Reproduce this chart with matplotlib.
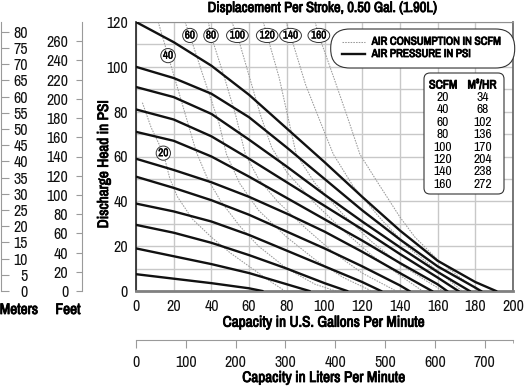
import matplotlib.pyplot as plt
import matplotlib.patheffects as pe
from matplotlib.patches import FancyBboxPatch
from matplotlib.lines import Line2D
from matplotlib.transforms import Affine2D

plt.rcParams['font.family'] = ['Archivo Narrow', 'Liberation Sans', 'DejaVu Sans']

W, H = 524, 387

# solid curves: air pressure in psi (gpm -> head psi)
pressure_gpm = [
    [0, 20, 40, 60, 80, 100, 120, 140, 160, 180, 191],
    [0, 20, 40, 60, 80, 100, 120, 140, 160, 180, 183],
    [0, 20, 40, 60, 80, 100, 120, 140, 160, 177],
    [0, 20, 40, 60, 80, 100, 120, 140, 160, 171],
    [0, 20, 40, 60, 80, 100, 120, 140, 160, 165],
    [0, 20, 40, 60, 80, 100, 120, 140, 157],
    [0, 20, 40, 60, 80, 100, 120, 140, 145],
    [0, 20, 40, 60, 80, 100, 120, 130],
    [0, 20, 40, 60, 80, 100, 112],
    [0, 20, 40, 60, 80, 92],
    [0, 20, 40, 60, 67],
]
pressure_psi = [
    [120, 111, 100.5, 87.5, 72.5, 57.5, 42, 27, 13.5, 4, 0],
    [100, 95, 88, 77.5, 64, 50, 36, 23, 11, 1.5, 0],
    [91, 86.5, 79, 67.5, 55.5, 43, 31, 19.5, 8.5, 0],
    [81, 76.5, 69, 59, 48.5, 38, 27.5, 16.5, 6, 0],
    [71, 67, 60, 51, 41.5, 32, 22.5, 12.5, 3, 0],
    [59, 54, 48.5, 42, 34.5, 26.5, 17.5, 8, 0],
    [51, 46, 40.5, 34, 26.5, 19, 11, 2.5, 0],
    [39, 35.5, 31, 25, 18, 11, 4, 0],
    [29.5, 26, 21.5, 16, 10, 3.5, 0],
    [19, 15.5, 12, 8, 3, 0],
    [7.5, 5.5, 3.5, 1.2, 0],
]

# dotted curves: air consumption in scfm
air_scfm = [20, 40, 60, 80, 100, 120, 140, 160]
air_gpm = [
    [3.4, 8, 14.5, 18, 22, 30, 40, 50, 60, 70, 79],
    [11.8, 17, 24, 32, 38, 45, 55, 65, 80, 95, 106],
    [26, 28.6, 36, 44, 48, 55, 65, 80, 95, 110, 125],
    [38.4, 39.8, 47, 53, 58, 65, 75, 90, 105, 120, 138],
    [50.8, 53.8, 60, 66, 72, 80, 95, 110, 125, 140, 152],
    [67.5, 69.6, 76, 80.5, 85, 95, 110, 125, 140, 155, 163],
    [79.6, 82, 90, 98, 104.7, 115, 130, 145, 160, 173],
    [95, 97, 105, 112, 118.8, 127, 140, 148, 160, 172, 182],
]
air_psi = [
    [84, 73, 61.5, 50, 42, 32, 24, 17, 11, 5, 0],
    [120, 105, 85, 62, 50, 40, 29, 20, 10, 3, 0],
    [120, 114, 95, 75, 61, 48, 36, 24, 14, 6, 0],
    [120, 114, 95, 78, 61, 50, 40, 28, 17, 8, 0],
    [120, 114, 96, 78.6, 64, 53, 39, 27, 16, 7, 0],
    [120, 114, 95, 78, 61, 48, 34, 22, 12, 4, 0],
    [120, 114, 92, 75, 61, 47, 32, 19, 9, 0],
    [120, 114, 95, 78, 61, 50, 33, 24, 14, 6, 0],
]
label_idx = [2, 1, 1, 1, 1, 1, 1, 1]

scfm_table = [20, 40, 60, 80, 100, 120, 140, 160]
m3hr_table = [34, 68, 102, 136, 170, 204, 238, 272]

fig = plt.figure(figsize=(W / 100, H / 100), dpi=100)
px = Affine2D().scale(1, -1).translate(0, H)  # image pixels (y down) -> display
bold = [pe.withStroke(linewidth=0.6, foreground='black')]  # narrow font has no bold face


def rect(x0, y0, x1, y1):
    return [x0 / W, 1 - y1 / H, (x1 - x0) / W, (y1 - y0) / H]


def ftext(x, y, s, heavy=False, **kw):
    if heavy:
        kw['path_effects'] = bold
    fig.text(x / W, 1 - y / H, s, color='black', **kw)


L, R, T, B = 136, 513, 22, 291
grid_c = '#c8c8c8'
dot_c = '#9a9a9a'
dots = (0, (1.5, 1.1))

# main chart
ax = fig.add_axes(rect(L, T, R, B))
ax.set_xlim(0, 200)
ax.set_ylim(0, 120)
ax.set_xticks(range(0, 201, 20))
ax.set_yticks(range(0, 121, 20))
ax.set_yticks(range(0, 121, 10), minor=True)
ax.grid(axis='x', which='major', color=grid_c, lw=1)
ax.grid(axis='y', which='both', color=grid_c, lw=1)
ax.set_axisbelow(True)
ax.tick_params(which='both', length=0, pad=6, labelsize=11.5, labelcolor='#111')
ax.spines['left'].set_color('#222')
ax.spines['left'].set_linewidth(1.2)
ax.spines['bottom'].set_color('#808080')
ax.spines['bottom'].set_linewidth(2)
ax.spines['top'].set_color('#909090')
ax.spines['right'].set_color('#606060')
ax.spines['right'].set_linewidth(1.2)

for g, p in zip(air_gpm, air_psi):
    ax.plot(g, p, color=dot_c, lw=0.75, ls=dots, zorder=2)
for g, p in zip(pressure_gpm, pressure_psi):
    ax.plot(g, p, color='#111', lw=1.7, solid_joinstyle='round', zorder=3)
for s, g, p, i in zip(air_scfm, air_gpm, air_psi, label_idx):
    ax.text(g[i], p[i], str(s), ha='center', va='center', fontsize=8, zorder=5,
            path_effects=[pe.withStroke(linewidth=0.3, foreground='black')],
            bbox=dict(boxstyle='ellipse,pad=0.0', fc='white', ec='#333', lw=0.7))

# meters scale
axm = fig.add_axes(rect(0.5, T, 1.0, B))
axm.set_ylim(0, 83)
for s in ['left', 'top', 'bottom']:
    axm.spines[s].set_visible(False)
axm.spines['right'].set_color('#9a9a9a')
axm.yaxis.tick_right()
axm.set_yticks(range(0, 81, 5))
axm.set_xticks([])
axm.tick_params(axis='y', length=5.8, color='#9a9a9a', pad=13.7, labelsize=11.5, labelcolor='#111')
for t in axm.get_yticklabels():
    t.set_ha('right')

# feet scale
axf = fig.add_axes(rect(81.7, T, 82.2, B))
axf.set_ylim(0, 280)
for s in ['right', 'top', 'bottom']:
    axf.spines[s].set_visible(False)
axf.spines['left'].set_color('#9a9a9a')
axf.set_yticks(range(0, 261, 20))
axf.set_xticks([])
axf.tick_params(axis='y', length=4.1, color='#9a9a9a', pad=5.5, labelsize=11.5, labelcolor='#111')

# liters scale
axl = fig.add_axes(rect(L, 339.8, R, 340.3))
axl.set_xlim(0, 757)
for s in ['left', 'top', 'right']:
    axl.spines[s].set_visible(False)
axl.spines['bottom'].set_color('#9a9a9a')
axl.set_xticks(range(0, 701, 100))
axl.set_xticks([757], minor=True)
axl.set_yticks([])
axl.tick_params(axis='x', which='major', length=5.8, color='#9a9a9a', pad=4.5, labelsize=11.5,
                labelcolor='#111')
axl.tick_params(axis='x', which='minor', length=2.5, color='#9a9a9a')

# titles and axis labels
ftext(323, 8, 'Displacement Per Stroke, 0.50 Gal. (1.90L)', True, ha='center', va='center',
      fontsize=10.5)
ftext(104, 164, 'Discharge Head in PSI', True, rotation=90, ha='center', va='center',
      fontsize=11)
ftext(324, 322.7, 'Capacity in U.S. Gallons Per Minute', True, ha='center', va='center',
      fontsize=11)
ftext(324, 378, 'Capacity in Liters Per Minute', True, ha='center', va='center', fontsize=11)
ftext(19, 310, 'Meters', True, ha='center', va='center', fontsize=11)
ftext(68, 310, 'Feet', True, ha='center', va='center', fontsize=11)

# legend pill
fig.add_artist(FancyBboxPatch((330.7, 29), 184, 39, boxstyle='round,pad=0,rounding_size=19',
                              transform=px, fc='white', ec='#333', lw=0.8, zorder=6))
fig.add_artist(Line2D([341.7, 365], [41.7, 41.7], transform=px, color=dot_c, lw=0.75,
                      ls=dots, zorder=7))
fig.add_artist(Line2D([341.7, 365], [54, 54], transform=px, color='#111', lw=1.7, zorder=7))
ftext(371.7, 41.7, 'AIR CONSUMPTION IN SCFM', True, va='center', fontsize=8.2, zorder=8)
ftext(371.7, 54, 'AIR PRESSURE IN PSI', True, va='center', fontsize=8.2, zorder=8)

# conversion table
fig.add_artist(FancyBboxPatch((424, 73), 80, 121, boxstyle='round,pad=0,rounding_size=6',
                              transform=px, fc='white', ec='#333', lw=0.8, zorder=6))
ftext(443, 85, 'SCFM', True, ha='center', va='center', fontsize=8.8, zorder=8)
ftext(482, 85, 'M³/HR', True, ha='center', va='center', fontsize=8.8, zorder=8)
for k, (a, b) in enumerate(zip(scfm_table, m3hr_table)):
    y = 97.3 + 12.43 * k
    ftext(443, y, str(a), ha='center', va='center', fontsize=9.8, zorder=8)
    ftext(483, y, str(b), ha='center', va='center', fontsize=9.8, zorder=8)

fig.savefig('out.png', dpi=100)
